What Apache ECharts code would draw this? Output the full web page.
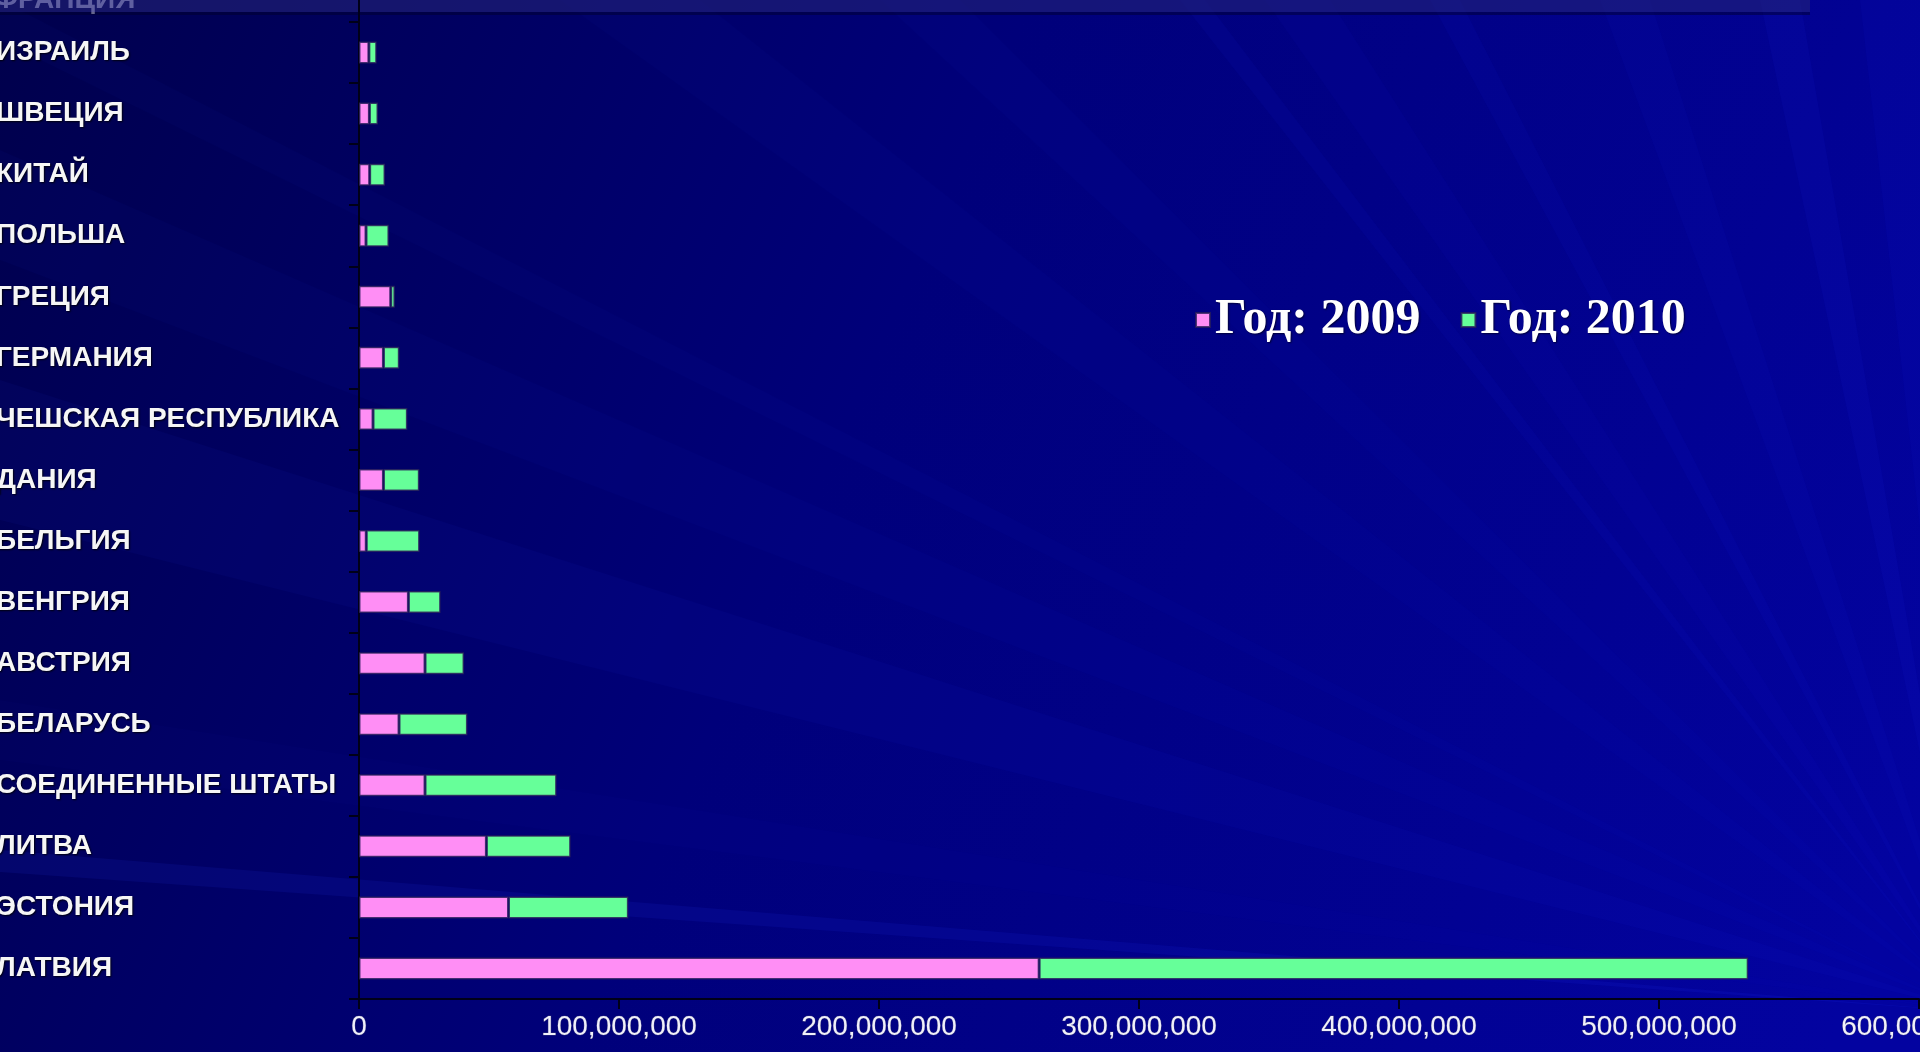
<!DOCTYPE html>
<html>
<head>
<meta charset="utf-8">
<style>
html,body{margin:0;padding:0;background:#00006e;overflow:hidden;}
#main{width:1920px;height:1052px;}
</style>
<script src="https://cdn.jsdelivr.net/npm/echarts@6/dist/echarts.min.js"></script>
</head>
<body>
<div id="main"></div>
<script>
// ---- data (bottom to top) ----
const categories = ['ЛАТВИЯ','ЭСТОНИЯ','ЛИТВА','СОЕДИНЕННЫЕ ШТАТЫ','БЕЛАРУСЬ','АВСТРИЯ','ВЕНГРИЯ','БЕЛЬГИЯ','ДАНИЯ','ЧЕШСКАЯ РЕСПУБЛИКА','ГЕРМАНИЯ','ГРЕЦИЯ','ПОЛЬША','КИТАЙ','ШВЕЦИЯ','ИЗРАИЛЬ'];
const values2009 = [261600000, 57500000, 49000000, 25400000, 15400000, 25400000, 19000000, 2800000, 9400000, 5400000, 9400000, 12200000, 2700000, 4100000, 4000000, 3800000];
const values2010 = [272700000, 46100000, 32400000, 50600000, 26300000, 15000000, 12400000, 20500000, 13800000, 13200000, 6100000, 1600000, 8800000, 5900000, 3300000, 3000000];
const seriesNames = ['Год: 2009', 'Год: 2010'];
const xMin = 0;
const xMax = 600000000;
const xInterval = 100000000;
const hiddenTopLabel = 'ФРАНЦИЯ';

// ---- decoration (background rays) ----
const W = 1920, H = 1052;
const F = [1975, 1012];
const leftRays = [[0, 40, 0.03], [150, 260, 0.035], [380, 520, 0.05], [700, 760, 0.025], [850, 872, 0.10]];
const topRays = [[560, 700, 0.03], [880, 960, 0.03], [1180, 1205, 0.06], [1265, 1330, 0.045], [1430, 1460, 0.06], [1600, 1650, 0.05], [1760, 1800, 0.07], [1860, 1920, 0.06]];
const rightRays = [[0, 150, 0.04], [300, 340, 0.05], [560, 620, 0.07], [690, 725, 0.12], [820, 1012, 0.05]];

const graphics = [];
graphics.push({
  type: 'rect', z: -100, silent: true,
  shape: {x: 0, y: 0, width: W, height: H},
  style: {fill: new echarts.graphic.LinearGradient(0, 0, 1, 0.8, [
    {offset: 0, color: '#00004c'},
    {offset: 0.45, color: '#00007a'},
    {offset: 1, color: '#0303a0'}
  ])}
});
function wedge(p1, p2, a) {
  return {type: 'polygon', z: -90, silent: true, shape: {points: [F, p1, p2]},
    style: {fill: 'rgba(40,55,255,' + a + ')'}};
}
leftRays.forEach(r => graphics.push(wedge([0, r[0]], [0, r[1]], r[2])));
topRays.forEach(r => graphics.push(wedge([r[0], 0], [r[1], 0], r[2])));
rightRays.forEach(r => graphics.push(wedge([W, r[0]], [W, r[1]], r[2])));

// top strip (cut-off row above)
graphics.push({
  type: 'text', z: 50, silent: true,
  style: {text: hiddenTopLabel, x: -6, y: -14, font: 'bold 28px "Liberation Sans"', fill: '#b8b8dc', verticalAlign: 'top'}
});
graphics.push({
  type: 'rect', z: 60, silent: true,
  shape: {x: 0, y: 0, width: 1810, height: 12},
  style: {fill: 'rgba(35,35,120,0.6)'}
});
graphics.push({
  type: 'rect', z: 60, silent: true,
  shape: {x: 0, y: 12, width: 1810, height: 3},
  style: {fill: 'rgba(0,0,40,0.45)'}
});
graphics.push({
  type: 'line', z: 61, silent: true,
  shape: {x1: 359, y1: 0, x2: 359, y2: 23},
  style: {stroke: '#000018', lineWidth: 2}
});

const chart = echarts.init(document.getElementById('main'), null, {renderer: 'canvas'});
chart.setOption({
  animation: false,
  graphic: graphics,
  legend: {
    data: seriesNames,
    left: 1190, top: 290,
    icon: 'rect', itemWidth: 14, itemHeight: 14, itemGap: 40,
    textStyle: {fontFamily: '"Liberation Serif", serif', fontWeight: 'bold', fontSize: 50, color: '#ffffff',
      textShadowColor: 'rgba(0,0,0,0.6)', textShadowBlur: 2, textShadowOffsetX: 1, textShadowOffsetY: 1}
  },
  grid: {left: 359, right: 1, top: 22, bottom: 53, containLabel: false, outerBoundsMode: 'none'},
  xAxis: {
    type: 'value', min: xMin, max: xMax, interval: xInterval,
    axisLine: {show: true, lineStyle: {color: '#000018', width: 2}},
    axisTick: {show: true, length: 10, lineStyle: {color: '#000018', width: 2}},
    splitLine: {show: false},
    axisLabel: {margin: 14, color: '#f0f0fa', fontFamily: '"Liberation Sans", sans-serif', fontSize: 28,
      textBorderColor: 'rgba(60,60,120,0.8)', textBorderWidth: 1, hideOverlap: false,
      formatter: v => v.toLocaleString('en-US')}
  },
  yAxis: {
    type: 'category', data: categories,
    axisLine: {show: true, lineStyle: {color: '#000018', width: 2}},
    axisTick: {show: true, length: 10, lineStyle: {color: '#000018', width: 2}},
    axisLabel: {align: 'left', margin: 363, color: '#f6f6f6', fontFamily: '"Liberation Sans", sans-serif', fontWeight: 'bold', fontSize: 28,
      textShadowColor: 'rgba(0,0,0,0.85)', textShadowBlur: 2, textShadowOffsetX: 1, textShadowOffsetY: 1}
  },
  series: [
    {name: seriesNames[0], type: 'bar', stack: 'total', data: values2009, barWidth: 22,
      itemStyle: {color: '#ff8ef5', borderColor: 'rgba(40,30,90,0.8)', borderWidth: 1.5}},
    {name: seriesNames[1], type: 'bar', stack: 'total', data: values2010, barWidth: 22,
      itemStyle: {color: '#66ff99', borderColor: 'rgba(40,30,90,0.8)', borderWidth: 1.5}}
  ]
});
</script>
</body>
</html>
